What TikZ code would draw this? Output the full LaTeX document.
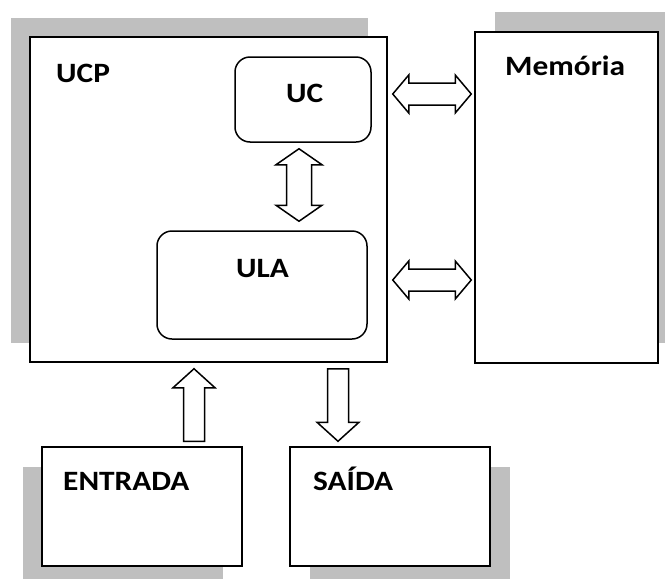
\documentclass[tikz,border=0pt]{standalone}
\usepackage{fontspec}
\setmainfont[FakeStretch=1.12]{Carlito}
\usetikzlibrary{calc,shadows}
% hollow block arrows: (tip)(tip) or (tip)(tail), then (head length:head half width:shaft half width)
\def\fatdbl[#1](#2)(#3)(#4:#5:#6){\draw[#1] (#2) -- ($(#2)!#4pt!(#3)!#5pt!90:(#3)$) -- ($(#2)!#4pt!(#3)!#6pt!90:(#3)$) -- ($(#3)!#4pt!(#2)!#6pt!-90:(#2)$) -- ($(#3)!#4pt!(#2)!#5pt!-90:(#2)$) -- (#3) -- ($(#3)!#4pt!(#2)!#5pt!90:(#2)$) -- ($(#3)!#4pt!(#2)!#6pt!90:(#2)$) -- ($(#2)!#4pt!(#3)!#6pt!-90:(#3)$) -- ($(#2)!#4pt!(#3)!#5pt!-90:(#3)$) -- cycle;}
\def\fatone[#1](#2)(#3)(#4:#5:#6){\draw[#1] (#2) -- ($(#2)!#4pt!(#3)!#5pt!90:(#3)$) -- ($(#2)!#4pt!(#3)!#6pt!90:(#3)$) -- ($(#3)!#6pt!-90:(#2)$) -- ($(#3)!#6pt!90:(#2)$) -- ($(#2)!#4pt!(#3)!#6pt!-90:(#3)$) -- ($(#2)!#4pt!(#3)!#5pt!-90:(#3)$) -- cycle;}

\begin{document}
\begin{tikzpicture}[x=1pt,y=-1pt,
	unitbox/.style={draw, line width=1.5pt, fill=white, inner sep=0pt},
	subbox/.style={unitbox, rounded corners=15pt},
	lbl/.style={anchor=base west, inner sep=0pt, font=\fontsize{28}{31}\selectfont\bfseries},
	blockarrow/.style={line width=1.5pt, fill=white, line join=miter}]
			%%%%% START %%%%%
			\useasboundingbox (0, 0) rectangle (665, 579);
			
			\node[unitbox, minimum width=357, minimum height=325,
				drop shadow={shadow xshift=-19pt, shadow yshift=19pt, opacity=1, fill=black!25}] (ucp) at (208.5, 199.5) {};
			\node[unitbox, minimum width=183, minimum height=331,
				drop shadow={shadow xshift=20pt, shadow yshift=20pt, opacity=1, fill=black!25}] (mem) at (566.5, 197.5) {};
			\node[unitbox, minimum width=200, minimum height=119,
				drop shadow={shadow xshift=-19pt, shadow yshift=-20pt, opacity=1, fill=black!25}] (ent) at (142, 506.5) {};
			\node[unitbox, minimum width=200, minimum height=119,
				drop shadow={shadow xshift=20pt, shadow yshift=-20pt, opacity=1, fill=black!25}] (sai) at (390, 506.5) {};
			
			\node[subbox, minimum width=136, minimum height=85] (uc) at (303, 99.5) {};
			\node[subbox, minimum width=210, minimum height=108] (ula) at (262, 285) {};
			
			\node[lbl] (ucplbl) at (56, 82) {UCP};
			\node[lbl] (uclbl) at (286, 102) {UC};
			\node[lbl] (ulalbl) at (236, 277) {ULA};
			\node[lbl] (memlbl) at (505, 75) {Memória};
			\node[lbl] (entlbl) at (63, 490) {ENTRADA};
			\node[lbl] (sailbl) at (313, 490) {SAÍDA};
			
			\coordinate (busa1) at ($(ucp.east |- uc.center)+(5, -5.5)$);
			\coordinate (busa2) at ($(mem.west |- uc.center)+(-3, -5.5)$);
			\coordinate (busb1) at ($(ucp.east |- ula.center)+(5, -5)$);
			\coordinate (busb2) at ($(mem.west |- ula.center)+(-3, -5)$);
			\coordinate (inner1) at ($(uc.south)+(-4, 6)$);
			\coordinate (inner2) at ($(uc.south |- ula.north)+(-4, -9)$);
			\coordinate (entin) at ($(ent.north |- ucp.south)+(52, 6)$);
			\coordinate (entout) at ($(ent.north)+(52, -5)$);
			\coordinate (saiout) at ($(sai.north |- ucp.south)+(-52, 6)$);
			\coordinate (saiin) at ($(sai.north)+(-52, -5)$);
			
			\fatdbl[blockarrow](busa1)(busa2)(16:19:11);
			\fatdbl[blockarrow](busb1)(busb2)(16:19:11);
			\fatdbl[blockarrow](inner1)(inner2)(16:23:12.5);
			\fatone[blockarrow](entin)(entout)(19:21:10.5);
			\fatone[blockarrow](saiin)(saiout)(19:21:10.5);
			
			%%%%% END %%%%%
\end{tikzpicture}
\end{document}
